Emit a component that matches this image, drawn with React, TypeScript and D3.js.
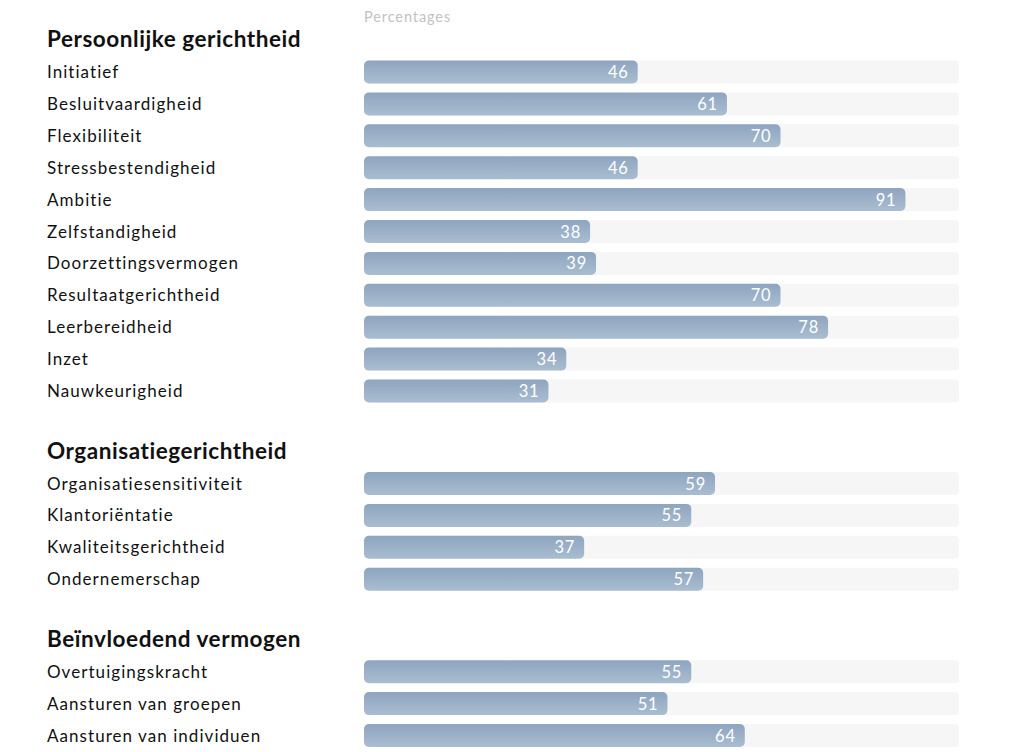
import React from "react";
import * as d3 from "d3";

const groupTitles = ["Persoonlijke gerichtheid", "Organisatiegerichtheid", "Beïnvloedend vermogen"];
const persoonlijkeLabels = ["Initiatief", "Besluitvaardigheid", "Flexibiliteit", "Stressbestendigheid", "Ambitie", "Zelfstandigheid", "Doorzettingsvermogen", "Resultaatgerichtheid", "Leerbereidheid", "Inzet", "Nauwkeurigheid"];
const persoonlijkeValues = [46, 61, 70, 46, 91, 38, 39, 70, 78, 34, 31];
const organisatieLabels = ["Organisatiesensitiviteit", "Klantoriëntatie", "Kwaliteitsgerichtheid", "Ondernemerschap"];
const organisatieValues = [59, 55, 37, 57];
const beinvloedLabels = ["Overtuigingskracht", "Aansturen van groepen", "Aansturen van individuen"];
const beinvloedValues = [55, 51, 64];
const axisTitle = "Percentages";

const W = 1023, H = 752;
const FONT = "Lato, 'Noto Sans', sans-serif";

export default function App() {
  const x = d3.scaleLinear().domain([0, 100]).range([364, 959]);
  const groups = [
    { title: groupTitles[0], labels: persoonlijkeLabels, values: persoonlijkeValues },
    { title: groupTitles[1], labels: organisatieLabels, values: organisatieValues },
    { title: groupTitles[2], labels: beinvloedLabels, values: beinvloedValues },
  ];
  const rowStep = 31.9;
  const barH = 23;
  let cursor = 39;
  const layout = groups.map((g) => {
    const headerY = cursor;
    const rows = g.labels.map((l, i) => ({ label: l, value: g.values[i], y: headerY + 33 + i * rowStep }));
    cursor = rows[rows.length - 1].y + 59.5;
    return { title: g.title, headerY, rows };
  });

  return (
    <svg width={W} height={H} style={{ position: "absolute", left: 0, top: 0, background: "#fff" }} fontFamily={FONT}>
      <defs>
        <linearGradient id="barGrad" x1="0" y1="0" x2="0" y2="1">
          <stop offset="0%" stopColor="#8ea5c0" />
          <stop offset="100%" stopColor="#aabdd0" />
        </linearGradient>
      </defs>
      <text x={364} y={22} fontSize={14.5} fill="#c2c2c2" letterSpacing={0.9}>{axisTitle}</text>
      {layout.map((g) => (
        <g key={g.title}>
          <text x={47} y={g.headerY + 8} fontSize={22.5} fontWeight={700} fill="#111" letterSpacing={0.55}>{g.title}</text>
          {g.rows.map((r) => (
            <g key={r.label}>
              <text x={47} y={r.y + 6} fontSize={17} fill="#111" letterSpacing={1.05}>{r.label}</text>
              <rect x={x(0)} y={r.y - barH / 2} width={x(100) - x(0)} height={barH} rx={4} fill="#f6f6f6" />
              <rect x={x(0)} y={r.y - barH / 2} width={x(r.value) - x(0)} height={barH} rx={5} fill="url(#barGrad)" />
              <text x={x(r.value) - 9} y={r.y + 6} fontSize={16.5} fill="#fff" textAnchor="end" letterSpacing={0.8}>{r.value}</text>
            </g>
          ))}
        </g>
      ))}
    </svg>
  );
}
